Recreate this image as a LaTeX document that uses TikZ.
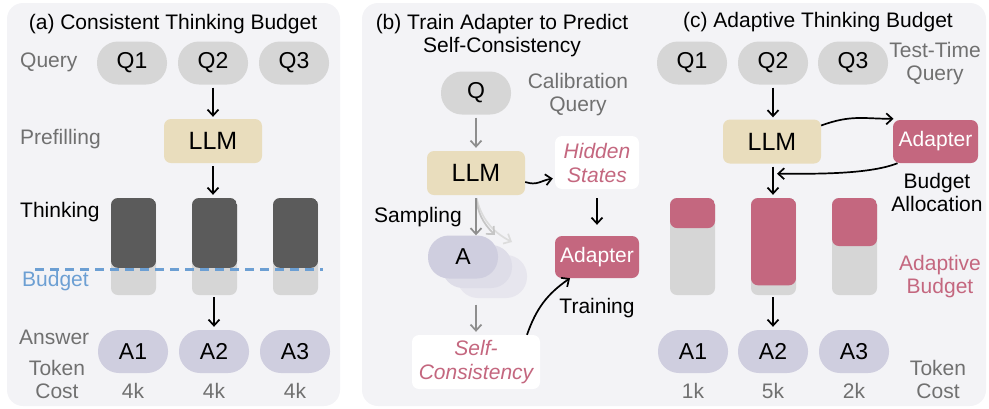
\documentclass[tikz,border=0pt]{standalone}
\usepackage{fontspec}
\setmainfont{Liberation Sans}
\usetikzlibrary{arrows.meta,calc}

\definecolor{panelbg}{HTML}{F3F3F6}
\definecolor{qgray}{HTML}{D6D6D6}
\definecolor{llmtan}{HTML}{E9DDBD}
\definecolor{darkbar}{HTML}{5B5B5B}
\definecolor{lightbar}{HTML}{D6D6D6}
\definecolor{lavender}{HTML}{CFCEDF}
\definecolor{lavender2}{HTML}{DEDDE8}
\definecolor{lavender3}{HTML}{E7E6EE}
\definecolor{rose}{HTML}{C4677F}
\definecolor{budgetblue}{HTML}{6C9FD3}
\definecolor{txtgray}{HTML}{707070}
\definecolor{arrgray}{HTML}{8E8E8E}
\definecolor{fade1}{HTML}{C6C6C6}
\definecolor{fade2}{HTML}{DCDCDC}

\begin{document}
\begin{tikzpicture}[x=1pt,y=-1pt,
  txt/.style={font=\fontsize{21}{23}\selectfont, inner sep=0pt},
  graylbl/.style={txt, text=txtgray},
  qpill/.style={rectangle, rounded corners=21pt, fill=qgray, minimum width=70pt,
    minimum height=43pt, inner sep=0pt, font=\fontsize{23}{25}\selectfont},
  apill/.style={qpill, fill=lavender},
  llmbox/.style={rectangle, rounded corners=7pt, fill=llmtan, minimum width=98pt,
    minimum height=44pt, inner sep=0pt, font=\fontsize{25}{27}\selectfont},
  adbox/.style={rectangle, rounded corners=7pt, fill=rose, text=white, minimum width=84pt,
    minimum height=42pt, inner sep=0pt, font=\fontsize{21}{23}\selectfont},
  notebox/.style={rectangle, rounded corners=7pt, fill=white, text=rose, align=center,
    inner sep=0pt, font=\fontsize{21}{24}\selectfont\itshape},
  barbox/.style={rectangle, rounded corners=7pt, fill=lightbar, minimum width=45pt,
    minimum height=97pt, inner sep=0pt},
  barfill/.style 2 args={path picture={
    \fill[#1] (path picture bounding box.north west) rectangle
      ($(path picture bounding box.north east)!#2!(path picture bounding box.south east)$);}},
  arr/.style={-{Straight Barb[length=6pt,width=11pt]}, line width=1.7pt, black},
  garr/.style={arr, arrgray},
]
\useasboundingbox (0,0) rectangle (989,408);

% panel backgrounds
\fill[panelbg, rounded corners=16pt] (7,3) rectangle (340,406);
\fill[panelbg, rounded corners=16pt] (362,3) rectangle (986,406);

%% ---------------- (a) consistent budget ----------------
\node[txt] (ta) at (173,24) {(a) Consistent Thinking Budget};
\node[graylbl, anchor=west] (aquery) at (20,62) {Query};
\node[graylbl, anchor=west] (aprefill) at (20,139) {Prefilling};
\node[txt, anchor=west] (athink) at (20,212) {Thinking};
\node[txt, anchor=west, text=budgetblue] (abudget) at (22,281) {Budget};
\node[graylbl, anchor=west] (aanswer) at (19,337) {Answer};
\node[graylbl, align=center] (acost) at (57,379.5) {Token\\Cost};

\node[qpill] (aq1) at (132,63) {Q1};
\node[qpill] (aq2) at (213,63) {Q2};
\node[qpill] (aq3) at (294,63) {Q3};

\node[llmbox] (allm) at (213,141) {LLM};

\node[barbox, barfill={darkbar}{0.72}] (ab1) at (133.5,246.5) {};
\node[barbox, barfill={darkbar}{0.72}] (ab2) at (214.5,246.5) {};
\node[barbox, barfill={darkbar}{0.72}] (ab3) at (295.5,246.5) {};

\coordinate (bl0) at (35,269);
\coordinate (bl1) at (323,269);
\draw[budgetblue, line width=3pt, dash pattern=on 9pt off 6pt] (bl0) -- (bl1);

\node[apill] (aa1) at (133,351.5) {A1};
\node[apill] (aa2) at (214,351.5) {A2};
\node[apill] (aa3) at (295,351.5) {A3};

\node[graylbl] (ac1) at (133,391) {4k};
\node[graylbl] (ac2) at (214,391) {4k};
\node[graylbl] (ac3) at (295,391) {4k};

\draw[arr, shorten <=3pt, shorten >=2pt] (aq2) -- (allm);
\draw[arr, shorten <=3pt, shorten >=3pt] (allm) -- (allm |- ab2.north);
\draw[arr, shorten <=2pt, shorten >=3pt] (ab2.south -| aa2) -- (aa2);

%% ---------------- (b) adapter training ----------------
\node[txt, align=center] (tb) at (502,35.5) {(b) Train Adapter to Predict\\Self-Consistency};
\node[qpill] (bq) at (476,93) {Q};
\node[graylbl, align=center] (bcal) at (578,94.5) {Calibration\\Query};
\node[llmbox] (bllm) at (476,173) {LLM};
\node[notebox, minimum width=84pt, minimum height=53pt] (bhid) at (597,162.5) {Hidden\\States};
\node[adbox] (bad) at (597,257) {Adapter};
\node[txt, anchor=west] (bsamp) at (374,217) {Sampling};

% stacked sampled answers
\node[qpill, fill=lavender3] (ba3) at (492,276.5) {};
\node[qpill, fill=lavender2] (ba2) at (477,266.5) {};
\node[apill] (ba1) at (463,257) {A};

\node[notebox, minimum width=128pt, minimum height=54pt] (bsc) at (476,362) {Self-\\Consistency};
\node[txt] (btrain) at (597,308) {Training};

\coordinate (fend1) at (495,235);
\coordinate (fend2) at (512,242);
\draw[garr, fade2, shorten <=3pt] (bllm.south) to[bend right=25] (fend2);
\draw[garr, fade1, shorten <=3pt] (bllm.south) to[bend right=20] (fend1);

\draw[garr, shorten <=3pt, shorten >=3pt] (bq) -- (bllm);
\draw[garr, shorten <=3pt] (bllm.south) -- (ba1.north -| bllm);
\draw[garr, shorten <=3pt, shorten >=3pt] (ba1.south -| bllm) ++(0,23) -- (bsc.north -| bllm);
\draw[arr] ([yshift=-9pt]bllm.east) .. controls +(12,4) and +(-12,2) .. ([xshift=-2pt,yshift=-16pt]bhid.west);
\draw[arr, shorten <=9pt, shorten >=11pt] (bhid) -- (bad);
\draw[arr] ([xshift=51pt]bsc.north) to[bend left=18] ([xshift=-27pt]bad.south);

%% ---------------- (c) adaptive budget ----------------
\node[txt] (tc) at (818,22) {(c) Adaptive Thinking Budget};
\node[qpill] (cq1) at (692,63) {Q1};
\node[qpill] (cq2) at (773,63) {Q2};
\node[qpill] (cq3) at (853,63) {Q3};
\node[graylbl, align=center] (ctest) at (935,64) {Test-Time\\Query};

\node[llmbox] (cllm) at (772,141.5) {LLM};
\node[adbox, minimum width=85pt, minimum height=43pt] (cad) at (935.5,141.5) {Adapter};
\node[txt, align=center] (calloc) at (937,192.5) {Budget\\Allocation};

\node[barbox, barfill={rose}{0.31}] (cb1) at (692.5,246.5) {};
\node[barbox, barfill={rose}{0.90}] (cb2) at (773.5,246.5) {};
\node[barbox, barfill={rose}{0.495}] (cb3) at (854.5,246.5) {};
\node[txt, align=center, text=rose] (cadapt) at (940,277) {Adaptive\\Budget};

\node[apill] (ca1) at (693,351.5) {A1};
\node[apill] (ca2) at (773,351.5) {A2};
\node[apill] (ca3) at (854,351.5) {A3};
\node[graylbl] (cc1) at (693,391) {1k};
\node[graylbl] (cc2) at (773,391) {5k};
\node[graylbl] (cc3) at (854,391) {2k};
\node[graylbl, align=center] (ccost) at (938,379.5) {Token\\Cost};

\draw[arr, shorten <=3pt, shorten >=2pt] (cq2) -- (cq2 |- cllm.north);
\draw[arr, shorten <=3pt, shorten >=3pt] (cq2 |- cllm.south) -- (cq2 |- cb2.north);
\draw[arr, shorten <=2pt, shorten >=3pt] (cb2.south -| ca2) -- (ca2);
\draw[arr] ([yshift=16pt]cllm.east) .. controls +(30,-11) and +(-30,0) .. ([xshift=-42pt,yshift=1pt]cad.north);
\draw[arr] ([xshift=-38pt]cad.south) .. controls +(-30,12) and +(30,0) .. ([xshift=5pt,yshift=-10pt]cllm.south);
\end{tikzpicture}
\end{document}
